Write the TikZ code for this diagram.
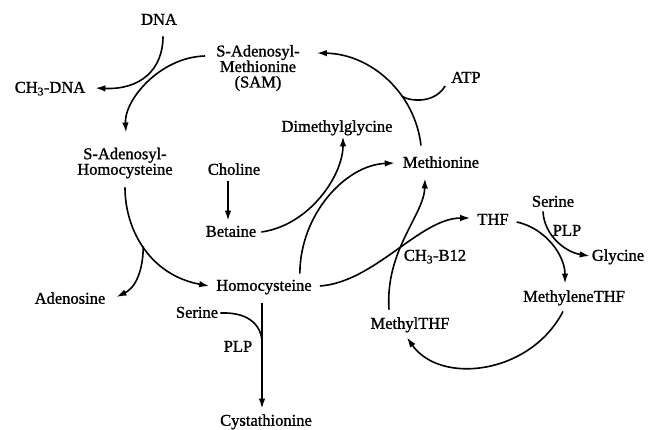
\documentclass[tikz,border=0pt]{standalone}
\usepackage{fontspec}
\setmainfont{Liberation Serif}[FakeBold=1.2]
\usetikzlibrary{positioning, calc, arrows.meta}
\tikzset{lbl/.style={inner sep=2pt, text height=11pt, text depth=3.5pt, font=\fontsize{16.5}{15.5}\selectfont},
stack/.style={inner sep=2pt, align=center, font=\fontsize{16.5}{15.5}\selectfont},
line/.style={-{Latex[length=10pt,width=6.5pt]}, line width=1.6pt},
link/.style={line width=1.6pt}
}
\begin{document}
\begin{tikzpicture}[x=1pt, y=-1pt]
\useasboundingbox (0,0) rectangle (655,429);
% methionine cycle
\node[lbl] (dna) at (159,21) {DNA};
\node[stack] (sam) at (258,68) {S-Adenosyl-\\Methionine\\(SAM)};
\node[lbl] (ch3dna) at (50,89) {CH\textsubscript{3}-DNA};
\node[stack] (sah) at (125,163) {S-Adenosyl-\\Homocysteine};
\node[lbl] (choline) at (234,171) {Choline};
\node[lbl] (dmg) at (337,128) {Dimethylglycine};
\node[lbl] (met) at (441,164) {Methionine};
\node[lbl] (atp) at (466,79) {ATP};
\node[lbl] (betaine) at (231,233) {Betaine};
\node[lbl] (hcy) at (264,287) {Homocysteine};
\node[lbl] (ado) at (70,300) {Adenosine};
\node[lbl] (serL) at (197,314) {Serine};
\node[lbl] (plpL) at (238,348) {PLP};
\node[lbl] (cysta) at (266,422) {Cystathionine};
% folate cycle
\node[lbl] (thf) at (493,221) {THF};
\node[lbl] (serR) at (553,203) {Serine};
\node[lbl] (plpR) at (567,232) {PLP};
\node[lbl] (gly) at (618,257) {Glycine};
\node[lbl] (b12) at (435,257) {CH\textsubscript{3}-B12};
\node[lbl] (mthf) at (574,298) {MethyleneTHF};
\node[lbl] (methf) at (410,325) {MethylTHF};

\draw[line] ([shift={(-9,-12)}]sam.west) .. controls (160,57) and (124,100) .. ([shift={(1,-13)}]sah.north);
\draw[line] ([shift={(4,6)}]dna.south) .. controls (163,70) and (140,90) .. ([shift={(8,-1)}]ch3dna.east);
\draw[line] ([shift={(0,7)}]sah.south) .. controls (125,230) and (150,275) .. coordinate[pos=0.48] (adoJoin) ([shift={(-5,-1)}]hcy.west);
\draw[line] (adoJoin) .. controls (143,272) and (135,288) .. ([shift={(9,-3)}]ado.east);
\draw[line] ([shift={(-14,-4)}]hcy.north east) .. controls (300,215) and (345,165) .. ([shift={(-6,-1)}]met.west);
\draw[line] ([shift={(3,-1)}]betaine.east) .. controls (310,225) and (343,175) .. ([shift={(6,-1)}]dmg.south);
\draw[line] ([shift={(-6,1)}]choline.south) -- ($(choline.south |- betaine.north)+(-6,-3)$);
\draw[line] ([shift={(-20,-9)}]met.north) .. controls (415,93) and (371,54) .. coordinate[pos=0.35] (atpJoin) ([shift={(15,-15)}]sam.east);
\draw[link] ([shift={(-4,7)}]atp.west) .. controls (435,103) and (412,102) .. (atpJoin);
\draw[line] ([shift={(6,-1)}]hcy.east) .. controls (375,282) and (420,218) .. ([shift={(-5,-3)}]thf.west);
\draw[line] ([shift={(-21,-6)}]methf.north) .. controls (385,250) and (424,215) .. ([shift={(-16,5)}]met.south);
\draw[line] ([shift={(6,1)}]thf.east) .. controls (545,228) and (565,255) .. ([shift={(-9,-5)}]mthf.north);
\draw[line] ([shift={(-10,-1)}]serR.south) .. controls (544,235) and (565,252) .. ([shift={(0,-1)}]gly.west);
\draw[line] ([shift={(-11,4)}]mthf.south) .. controls (530,375) and (440,385) .. ([shift={(-3,3)}]methf.south);
\draw[line] ([shift={(-2,7)}]hcy.south) -- coordinate[pos=0.35] (plpJoin) ($(hcy.south |- cysta.north)+(-2,-4)$);
\draw[link] ([shift={(0,-1)}]serL.east) .. controls (245,312) and (260,322) .. (plpJoin);
\end{tikzpicture}
\end{document}
